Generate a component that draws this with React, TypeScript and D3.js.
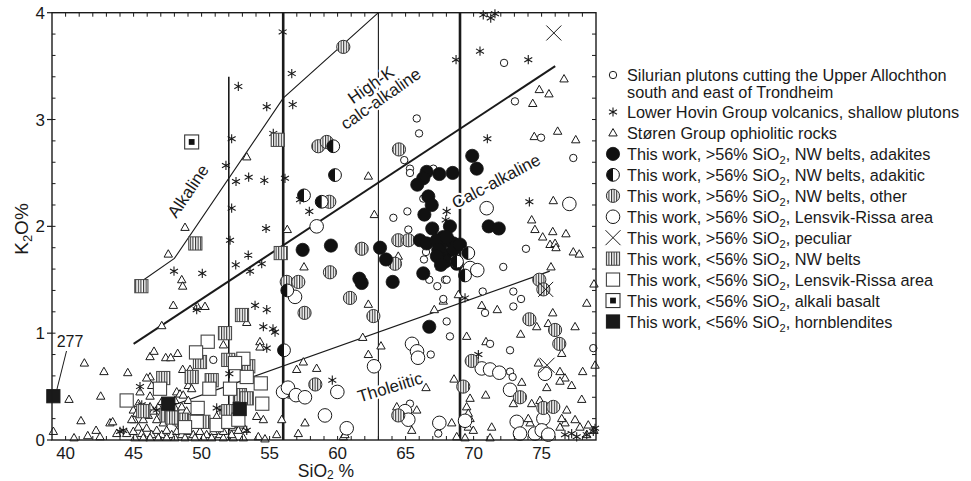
import React from "react";
import * as d3 from "d3";

type Pt = [number, number];

// axis ticks
const xTickLabels = [40, 45, 50, 55, 60, 65, 70, 75];
const yTickLabels = [0, 1, 2, 3, 4];

// Silurian plutons cutting the Upper Allochthon (small open circles)
const silurian: Pt[] = [
  [72.24, 3.53], [73.04, 3.17], [74.96, 2.83], [77.33, 2.64], [65.82, 3.01], [65.99, 2.87],
  [64.9, 2.62], [65.32, 2.54], [65.32, 2.5], [67.04, 2.54], [65.13, 2.14], [64.1, 2.08],
  [66.3, 2.26], [65.2, 1.97], [73.85, 1.79], [72.18, 1.62], [67.9, 1.5], [70.67, 1.39],
  [72.92, 1.39], [72.92, 1.25], [73.49, 1.32], [67.77, 1.32], [68.02, 1.11], [68.26, 0.97],
  [70.84, 1.19], [71.21, 0.9], [72.68, 0.84], [72.68, 0.64], [72.87, 0.59], [78.8, 0.86],
  [66.5, 1.76], [66.35, 1.69], [66.74, 1.5], [67.33, 1.44], [68.02, 1.5], [66.85, 0.8],
  [67.4, 0.06], [65.32, 0.34], [50.86, 0.75],
];

// Lower Hovin Group volcanics (asterisks)
const hovin: Pt[] = [
  [55.96, 3.82], [56.63, 3.43], [56.7, 3.14], [52.7, 3.31], [54.79, 3.12], [55.27, 2.87],
  [52.21, 2.82], [51.79, 2.57], [52.53, 2.42], [53.46, 2.46], [54.61, 2.43], [56.13, 2.45],
  [52.21, 2.17], [54.74, 1.98], [57.24, 2.25], [57.92, 2.14], [52.09, 1.87], [53.43, 1.73],
  [52.51, 1.64], [54.42, 1.65], [53.56, 1.58], [47.97, 1.58], [50.05, 1.56], [49.64, 1.22],
  [53.93, 1.26], [54.79, 1.22], [54.54, 1.06], [55.4, 1.01], [55.25, 1.04], [54.79, 0.86],
  [52.04, 0.62], [68.02, 2.14], [67.95, 2.06], [68.71, 3.56], [70.47, 3.64], [74.02, 3.56],
  [71.01, 2.82], [70.71, 3.98], [71.26, 3.95], [71.57, 3.99], [74.1, 2.23], [69.37, 1.33],
  [70.35, 0.8], [59.61, 0.56], [76.72, 0.05], [77.21, 0.06], [77.58, 0.03], [78.32, 0.05],
  [78.8, 0.08], [78.93, 0.11], [45.47, 0.5], [51.11, 0.3], [51.35, 0.28], [53.32, 0.09],
  [45.6, 0.33], [46.7, 0.28], [44.0, 0.08], [44.24, 0.09],
];

// Støren Group ophiolitic rocks (triangles)
const storen: Pt[] = [
  [39.1, 0.08], [40.25, 0.38], [41.38, 0.72], [41.13, 0.18], [40.62, 0.02], [41.63, 0.04],
  [42.24, 0.09], [42.58, 0.41], [42.82, 0.64], [43.26, 0.16], [43.46, 0.17], [44.57, 0.63],
  [42.53, 0.03], [43.76, 0.06], [44.49, 0.06], [45.03, 0.19], [45.1, 0.02], [46.21, 0.78],
  [46.5, 0.83], [47.36, 0.77], [47.73, 0.77], [48.24, 0.81], [48.61, 0.66], [49.51, 0.81],
  [46.21, 0.59], [47.07, 1.07], [47.92, 1.26], [49.68, 1.25], [50.25, 1.25], [48.54, 1.5],
  [48.61, 1.44], [47.55, 1.74], [48.78, 1.99], [53.32, 1.1], [54.29, 0.92], [54.29, 0.87],
  [51.6, 0.89], [57.48, 0.73], [56.99, 0.66], [58.46, 0.67], [55.52, 0.05], [55.89, 0.19],
  [57.11, 0.06], [57.6, 0.16], [54.17, 0.03], [54.66, 0.01], [54.05, 0.22], [54.54, 0.19],
  [53.19, 0.1], [53.32, 2.65], [56.3, 1.97],
  [45.96, 0.58], [45.47, 0.45], [46.33, 0.51], [46.21, 0.41], [44.98, 0.28], [45.35, 0.34],
  [44.86, 0.19],
  [44.98, 0.08], [45.35, 0.12], [45.6, 0.06], [45.96, 0.11], [46.33, 0.05], [46.7, 0.09],
  [47.07, 0.05], [47.43, 0.09], [47.8, 0.05], [48.17, 0.08], [48.54, 0.05], [49.02, 0.08],
  [49.39, 0.05], [49.88, 0.08], [50.37, 0.05], [50.86, 0.08], [51.35, 0.05],
  [45.71, 0.02], [46.21, 0.02], [46.82, 0.02], [47.43, 0.02], [48.04, 0.02], [48.78, 0.02],
  [49.51, 0.02], [50.13, 0.02], [50.74, 0.02], [51.6, 0.02], [52.33, 0.02], [53.07, 0.02],
  [45.23, 0.25], [45.6, 0.28], [46.08, 0.23], [46.45, 0.27], [46.94, 0.22], [46.82, 0.31],
  [47.31, 0.3], [47.8, 0.23], [48.04, 0.3], [48.54, 0.31], [48.9, 0.27], [47.55, 0.34],
  [46.21, 0.31], [45.71, 0.19], [46.7, 0.19], [47.18, 0.16], [47.68, 0.19], [48.17, 0.17],
  [51.11, 0.22], [52.33, 0.12], [52.82, 0.14], [51.6, 0.08], [52.21, 0.05], [52.7, 0.09],
  [48.17, 0.45], [48.41, 0.43], [48.65, 0.42], [49.02, 0.51], [49.27, 0.48], [47.07, 0.36],
  [48.04, 0.37], [49.02, 0.37], [49.15, 0.66],
  [57.53, 1.62], [62.26, 2.47], [62.7, 2.11], [64.46, 1.72], [67.53, 1.62], [68.88, 1.36],
  [62.26, 1.27], [63.19, 0.88], [62.26, 0.8], [61.85, 0.96], [60.42, 0.03], [67.11, 1.22],
  [67.77, 1.3], [66.5, 0.49], [68.56, 0.57], [68.39, 0.16], [69.49, 0.97], [69.74, 0.39],
  [69.37, 0.02], [68.76, 0.03], [70.6, 1.26], [70.91, 0.92], [71.74, 1.22], [70.89, 0.42],
  [71.33, 0.12], [71.21, 0.02], [69.61, 0.12], [69.74, 0.2], [65.45, 0.09], [65.82, 0.28],
  [64.35, 0.31], [72.92, 0.34], [74.27, 0.34], [74.88, 0.37], [74.15, 0.16], [56.63, 0.42],
  [60.54, 0.05],
  [75.86, 2.24], [74.27, 2.06], [74.51, 1.97], [75.08, 1.9], [75.82, 1.95], [76.79, 1.93],
  [75.62, 1.83], [75.99, 1.84], [76.06, 1.8], [77.33, 1.76], [77.77, 1.74], [75.69, 1.62],
  [78.85, 1.46], [78.32, 1.28], [75.82, 1.19], [74.64, 1.06], [75.49, 1.09], [77.46, 1.06],
  [73.46, 0.99], [76.48, 0.81], [78.93, 0.7], [74.76, 0.72], [76.35, 0.64], [76.72, 0.58],
  [77.21, 0.51], [76.35, 0.55], [78.02, 0.64], [71.33, 0.64], [73.54, 0.54], [75.38, 0.49],
  [69.49, 0.31], [69.61, 0.25], [77.95, 0.38], [76.85, 0.28], [77.46, 0.19], [76.72, 0.16],
  [76.48, 0.2], [76.35, 0.12], [74.02, 0.2], [69.98, 0.09], [77.82, 0.12], [78.43, 0.14],
  [78.32, 0.05], [78.85, 0.09],
  [76.65, 3.38], [74.83, 3.28], [75.54, 3.24], [74.35, 3.15], [74.46, 2.84], [76.18, 2.89],
  [77.51, 2.81],
];

// This work, >56% SiO2, NW belts, adakites (filled circles)
const adakites: Pt[] = [
  [69.9, 2.66], [70.23, 2.54], [66.55, 2.51], [67.48, 2.49], [68.46, 2.5], [66.3, 2.45],
  [65.86, 2.39], [66.67, 2.28], [66.92, 2.2], [66.38, 2.11], [66.96, 1.98], [68.26, 2.0],
  [67.77, 1.9], [68.14, 1.87], [66.06, 1.87], [66.55, 1.84], [67.53, 1.81], [68.51, 1.84],
  [67.9, 1.73], [68.51, 1.78], [67.29, 1.87], [68.02, 1.9], [69.0, 1.83], [67.4, 1.78],
  [68.76, 1.65], [67.9, 1.67], [67.3, 1.72], [67.6, 1.64], [63.12, 1.8], [63.56, 1.69],
  [64.05, 1.48], [66.3, 1.56], [61.6, 1.51], [61.77, 1.47], [57.43, 1.78], [59.51, 1.82],
  [66.74, 1.06], [71.11, 2.0], [71.85, 1.98],
];

// This work, >56% SiO2, NW belts, adakitic (half-filled circles)
const adakitic: Pt[] = [
  [59.68, 2.75], [59.81, 2.48], [57.53, 2.29], [58.83, 2.23], [56.06, 0.84], [56.3, 1.4],
  [69.61, 1.75], [69.37, 1.54], [68.78, 1.67],
];

// This work, >56% SiO2, NW belts, other (striped circles)
const nwOther: Pt[] = [
  [58.58, 2.75], [59.2, 2.79], [60.42, 3.68], [64.51, 2.72], [59.39, 2.23], [64.46, 1.87],
  [65.2, 1.87], [61.77, 1.79], [64.22, 1.65], [59.44, 1.57], [56.26, 1.48], [57.11, 1.48],
  [60.91, 1.33], [62.63, 1.16], [57.57, 1.19], [58.36, 0.52], [64.46, 0.23], [69.24, 0.5],
  [69.86, 0.74], [74.1, 1.13], [74.83, 1.5], [75.13, 1.41], [75.99, 1.03], [76.3, 0.9],
  [73.41, 0.4], [75.13, 0.3], [75.86, 0.31],
];

// This work, >56% SiO2, Lensvik-Rissa area (large open circles)
const lensvikHigh: Pt[] = [
  [58.46, 2.0], [70.96, 2.17], [77.04, 2.21], [69.74, 1.61], [70.27, 1.59], [56.87, 1.34],
  [55.99, 0.45], [56.35, 0.49], [56.94, 0.42], [57.6, 0.4], [59.07, 0.23], [59.98, 0.45],
  [60.67, 0.11], [62.68, 0.69], [65.47, 0.9], [65.84, 0.83], [65.91, 0.77], [64.96, 0.27],
  [65.2, 0.19], [67.48, 0.16], [69.37, 0.18], [70.6, 0.67], [71.21, 0.66], [71.89, 0.63],
  [72.68, 0.47], [75.25, 0.62], [75.13, 0.2], [73.17, 0.17], [73.41, 0.06], [74.51, 0.06],
  [75.01, 0.09], [75.49, 0.05],
];

// This work, >56% SiO2, peculiar (crosses)
const peculiar: Pt[] = [[75.9, 3.81], [75.3, 1.41], [75.4, 0.7]];

// This work, <56% SiO2, NW belts (striped squares)
const nwLow: Pt[] = [
  [55.6, 2.81], [49.54, 1.84], [45.57, 1.44], [55.82, 1.75], [52.97, 1.17], [51.72, 1.0],
  [49.88, 0.73], [51.96, 0.75], [53.43, 0.69], [49.27, 0.59], [47.18, 0.58], [50.74, 0.56],
  [52.82, 0.42], [53.32, 0.39], [45.71, 0.27], [47.43, 0.23], [48.54, 0.19], [50.13, 0.17],
  [51.96, 0.27], [47.82, 0.21],
];

// This work, <56% SiO2, Lensvik-Rissa area (open squares)
const lensvikLow: Pt[] = [
  [50.45, 0.92], [49.59, 0.82], [53.07, 0.76], [52.46, 0.72], [53.32, 0.59], [54.35, 0.53],
  [50.57, 0.48], [52.09, 0.48], [46.94, 0.48], [44.49, 0.37], [49.71, 0.3], [54.46, 0.34],
  [49.64, 0.17], [51.11, 0.14], [51.96, 0.17], [48.78, 0.12], [52.7, 0.19],
];

const alkaliBasalt: Pt[] = [[49.27, 2.79]];
const hornblendites: Pt[] = [[39.1, 0.41], [47.55, 0.34], [52.8, 0.29]];

// classification boundaries
const alkalineLine: Pt[] = [[45.3, 1.46], [48, 1.7], [56, 3.2], [63, 4.0]];
const highKLine: Pt[] = [[45, 0.9], [76, 3.5]];
const tholeiiticLine: Pt[] = [[48, 0.33], [75.6, 1.58]];
const verticals = [
  { si: 52, top: 3.4, w: 1.6 },
  { si: 56, top: 4, w: 2.6 },
  { si: 63, top: 4, w: 1.1 },
  { si: 69, top: 4, w: 2.6 },
];

const legendKinds = [
  "silurian", "hovin", "storen", "adakite", "adakitic", "nwOther", "lensvikHigh",
  "peculiar", "nwLow", "lensvikLow", "alkali", "hornblende",
];
const legendLabels = [
  "Silurian plutons cutting the Upper Allochthon|south and east of Trondheim",
  "Lower Hovin Group volcanics, shallow plutons",
  "Støren Group ophiolitic rocks",
  "This work, >56% SiO2, NW belts, adakites",
  "This work, >56% SiO2, NW belts, adakitic",
  "This work, >56% SiO2, NW belts, other",
  "This work, >56% SiO2, Lensvik-Rissa area",
  "This work, >56% SiO2, peculiar",
  "This work, <56% SiO2, NW belts",
  "This work, <56% SiO2, Lensvik-Rissa area",
  "This work, <56% SiO2, alkali basalt",
  "This work, <56% SiO2, hornblendites",
];

const font = "'Liberation Sans', Arial, Helvetica, sans-serif";
const ink = "#1a1a1a";

const x = d3.scaleLinear().domain([39, 79]).range([52, 596]);
const y = d3.scaleLinear().domain([0, 4]).range([440, 12.7]);
const line = d3.line<Pt>().x((d) => x(d[0])).y((d) => y(d[1]));

function Mark({ kind, cx, cy }: { kind: string; cx: number; cy: number }) {
  switch (kind) {
    case "silurian":
      return <circle cx={cx} cy={cy} r={3.7} fill="white" stroke={ink} strokeWidth={1} />;
    case "hovin": {
      const a = 4.6;
      const c = a * Math.cos(Math.PI / 6), s = a * Math.sin(Math.PI / 6);
      return (
        <path
          d={`M${cx},${cy - a}V${cy + a}M${cx - c},${cy - s}L${cx + c},${cy + s}M${cx - c},${cy + s}L${cx + c},${cy - s}`}
          stroke={ink} strokeWidth={1.1} fill="none"
        />
      );
    }
    case "storen":
      return (
        <path
          d={`M${cx},${cy - 4.4}L${cx + 4.2},${cy + 3}L${cx - 4.2},${cy + 3}Z`}
          fill="white" stroke={ink} strokeWidth={1}
        />
      );
    case "adakite":
      return <circle cx={cx} cy={cy} r={6.6} fill="#111" stroke="#111" strokeWidth={0.8} />;
    case "adakitic":
      return (
        <g>
          <circle cx={cx} cy={cy} r={6.4} fill="white" stroke="#111" strokeWidth={1} />
          <path d={`M${cx},${cy - 6.4}A6.4,6.4 0 0 0 ${cx},${cy + 6.4}Z`} fill="#111" />
        </g>
      );
    case "nwOther":
      return <circle cx={cx} cy={cy} r={6.6} fill="url(#vstripe)" stroke="#333" strokeWidth={1} />;
    case "lensvikHigh":
      return <circle cx={cx} cy={cy} r={6.8} fill="white" stroke={ink} strokeWidth={1} />;
    case "peculiar":
      return (
        <path
          d={`M${cx - 7.5},${cy - 7.5}L${cx + 7.5},${cy + 7.5}M${cx - 7.5},${cy + 7.5}L${cx + 7.5},${cy - 7.5}`}
          stroke={ink} strokeWidth={1} fill="none"
        />
      );
    case "nwLow":
      return (
        <rect x={cx - 6.6} y={cy - 6.6} width={13.2} height={13.2}
          fill="url(#vstripe)" stroke="#444" strokeWidth={1} />
      );
    case "lensvikLow":
      return (
        <rect x={cx - 6.6} y={cy - 6.6} width={13.2} height={13.2}
          fill="white" stroke="#444" strokeWidth={1.1} />
      );
    case "alkali":
      return (
        <g>
          <rect x={cx - 7} y={cy - 7} width={14} height={14} fill="white" stroke="#333" strokeWidth={1.1} />
          <rect x={cx - 2.9} y={cy - 2.9} width={5.8} height={5.8} fill="#111" />
        </g>
      );
    case "hornblende":
      return <rect x={cx - 6.6} y={cy - 6.6} width={13.2} height={13.2} fill="#1a1a1a" stroke="#1a1a1a" />;
    default:
      return null;
  }
}

function Series({ data, kind }: { data: Pt[]; kind: string }) {
  return (
    <g>
      {data.map((d, i) => (
        <Mark key={i} kind={kind} cx={x(d[0])} cy={y(d[1])} />
      ))}
    </g>
  );
}

function SiText({ text, x0, y0, size }: { text: string; x0: number; y0: number; size: number }) {
  const idx = text.indexOf("SiO2");
  if (idx < 0) {
    return (
      <text x={x0} y={y0} fontSize={size}>
        {text}
      </text>
    );
  }
  return (
    <text x={x0} y={y0} fontSize={size}>
      {text.slice(0, idx + 3)}
      <tspan fontSize={size * 0.68} dy={4}>2</tspan>
      <tspan dy={-4}>{text.slice(idx + 4)}</tspan>
    </text>
  );
}

export default function App() {
  const x0 = x.range()[0], x1 = x.range()[1];
  const y0 = y.range()[0], y1 = y.range()[1];
  const unitTicks = d3.range(40, 79, 1);
  const minorY = d3.range(0.2, 4, 0.2);
  const halo = { paintOrder: "stroke" as const, stroke: "white", strokeWidth: 4, strokeLinejoin: "round" as const };
  const h277 = hornblendites[0];

  return (
    <svg width={971} height={481} style={{ position: "absolute", left: 0, top: 0, background: "white" }}
      fontFamily={font} fill={ink}>
      <defs>
        <pattern id="vstripe" patternUnits="userSpaceOnUse" width={2.6} height={4}>
          <rect width={2.6} height={4} fill="white" />
          <rect x={0} width={1.1} height={4} fill="#333" />
        </pattern>
      </defs>

      {/* boundary lines */}
      {verticals.map((v) => (
        <line key={v.si} x1={x(v.si)} x2={x(v.si)} y1={y(0)} y2={y(v.top)} stroke={ink} strokeWidth={v.w} />
      ))}
      <path d={line(alkalineLine) || ""} fill="none" stroke={ink} strokeWidth={1.1} />
      <path d={line(highKLine) || ""} fill="none" stroke={ink} strokeWidth={2} />
      <path d={line(tholeiiticLine) || ""} fill="none" stroke={ink} strokeWidth={1.3} />

      {/* field labels */}
      <g fontSize={17} style={halo}>
        <text transform="translate(188,191) rotate(-56)" textAnchor="middle" dy={6}>Alkaline</text>
        <g transform="translate(376,92) rotate(-35)">
          <text textAnchor="middle" y={-3}>High-K</text>
          <text textAnchor="middle" y={14}>calc-alkaline</text>
        </g>
        <text transform="translate(496,181) rotate(-28)" textAnchor="middle" dy={6}>Calc-alkaline</text>
        <text transform="translate(390,387) rotate(-17)" textAnchor="middle" dy={6}>Tholeiitic</text>
      </g>

      {/* data */}
      <Series data={storen} kind="storen" />
      <Series data={silurian} kind="silurian" />
      <Series data={hovin} kind="hovin" />
      <Series data={nwLow} kind="nwLow" />
      <Series data={lensvikLow} kind="lensvikLow" />
      <Series data={hornblendites} kind="hornblende" />
      <Series data={alkaliBasalt} kind="alkali" />
      <Series data={lensvikHigh} kind="lensvikHigh" />
      <Series data={nwOther} kind="nwOther" />
      <Series data={adakites} kind="adakite" />
      <Series data={adakitic} kind="adakitic" />
      <Series data={peculiar} kind="peculiar" />

      {/* sample 277 */}
      <text x={70} y={347} fontSize={16} textAnchor="middle">277</text>
      <line x1={66.5} y1={351} x2={x(h277[0]) + 3.5} y2={y(h277[1]) - 6.6} stroke={ink} strokeWidth={1} />

      {/* frame and ticks */}
      <rect x={x0} y={y1} width={x1 - x0} height={y0 - y1} fill="none" stroke={ink} strokeWidth={1.4} />
      {unitTicks.map((t) => (
        <g key={t} stroke={ink} strokeWidth={1}>
          <line x1={x(t)} x2={x(t)} y1={y0} y2={y0 - 4} />
          <line x1={x(t)} x2={x(t)} y1={y1} y2={y1 + 4} />
        </g>
      ))}
      {minorY.map((t) => (
        <g key={t} stroke={ink} strokeWidth={1}>
          <line x1={x0} x2={x0 + 3.5} y1={y(t)} y2={y(t)} />
          <line x1={x1} x2={x1 - 4} y1={y(t)} y2={y(t)} />
        </g>
      ))}
      {yTickLabels.map((t) => (
        <g key={t}>
          <line x1={x0 - 5} x2={x0} y1={y(t)} y2={y(t)} stroke={ink} strokeWidth={1.2} />
          <text x={x0 - 7} y={y(t) + 6} fontSize={17} textAnchor="end">{t}</text>
        </g>
      ))}
      {xTickLabels.map((t) => (
        <text key={t} x={x(t)} y={459} fontSize={17} textAnchor="middle">{t}</text>
      ))}

      {/* axis titles */}
      <text x={326} y={477} fontSize={17.5} textAnchor="middle">
        SiO<tspan fontSize={12} dy={2}>2</tspan><tspan dy={-2}> %</tspan>
      </text>
      <text transform="translate(28,229) rotate(-90)" fontSize={19} textAnchor="middle">
        K<tspan fontSize={13} dy={4}>2</tspan><tspan dy={-4}>O%</tspan>
      </text>

      {/* legend */}
      {legendKinds.map((k, i) => {
        const cy = i === 0 ? 75 : 112 + 20.95 * (i - 1);
        const parts = legendLabels[i].split("|");
        return (
          <g key={k}>
            <Mark kind={k} cx={613} cy={cy} />
            <SiText text={parts[0]} x0={627} y0={cy + 6} size={16.3} />
            {parts[1] && <SiText text={parts[1]} x0={627} y0={cy + 23} size={16.3} />}
          </g>
        );
      })}
    </svg>
  );
}
